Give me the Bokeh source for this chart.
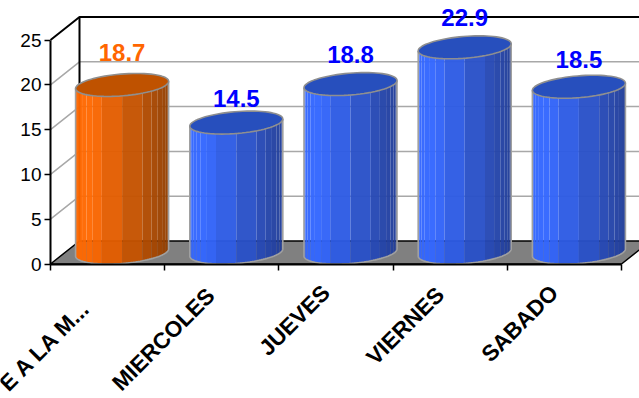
import numpy as np
from bokeh.core.properties import value
from bokeh.embed import file_html
from bokeh.models import FixedTicker, LinearAxis, Range1d
from bokeh.plotting import figure
from bokeh.resources import INLINE

# Chart data
categories = ["E A LA M...", "MIERCOLES", "JUEVES", "VIERNES", "SABADO"]
values = [18.7, 14.5, 18.8, 22.9, 18.5]
value_labels = ["18.7", "14.5", "18.8", "22.9", "18.5"]
y_ticks = [0, 5, 10, 15, 20, 25]

# Scale of the plotting box, in pixels per data unit
PX_X, PX_Y = 114.2, 8.96
LEFT_PX, BASE_PX = 50.0, 263.5
W, H = 639, 398

# Oblique projection of the depth axis
DEPTH_X, DEPTH_Y = 29 / PX_X, 23 / PX_Y
BAR_A = 44.2 / PX_X

x_range = Range1d(-LEFT_PX / PX_X, (W - LEFT_PX) / PX_X)
y_range = Range1d((BASE_PX - H) / PX_Y, BASE_PX / PX_Y)

p = figure(width=W, height=H, x_range=x_range, y_range=y_range,
           output_backend="svg", toolbar_location=None,
           x_axis_type=None, y_axis_type=None, min_border=0)
p.outline_line_color = None
p.grid.visible = False
p.background_fill_color = "white"
p.border_fill_color = "white"

n_cat = len(categories)
top = max(y_ticks)

# Floor of the box
p.patch([0, DEPTH_X, n_cat + DEPTH_X, n_cat], [0, DEPTH_Y, DEPTH_Y, 0],
        fill_color="#808080", line_color="black", line_width=1.5)

# Gridlines: across the back wall and down the left wall
for t in y_ticks[1:-1]:
    p.line([0, DEPTH_X, n_cat + DEPTH_X], [t, t + DEPTH_Y, t + DEPTH_Y],
           line_color="#a8a8a8", line_width=1.5)

# Frame of the box
p.line([0, DEPTH_X, n_cat + DEPTH_X], [top, top + DEPTH_Y, top + DEPTH_Y],
       line_color="black", line_width=2)
p.line([DEPTH_X, DEPTH_X], [DEPTH_Y, top + DEPTH_Y], line_color="black", line_width=2)


def ramp(c_light, c_dark, t):
    k = np.clip((t - 0.18) / 0.82, 0, 1)
    c = np.array(c_light) + (np.array(c_dark) - np.array(c_light)) * k
    return "#%02x%02x%02x" % tuple(int(round(v)) for v in c)


def ellipse(cx, cy, theta):
    return (cx + BAR_A * np.cos(theta) + DEPTH_X / 2 * np.sin(theta),
            cy + DEPTH_Y / 2 * np.sin(theta))


x_extent = np.hypot(BAR_A, DEPTH_X / 2)
theta_r = np.arctan2(DEPTH_X / 2, BAR_A)
theta_l = theta_r + np.pi
full = np.linspace(0, 2 * np.pi, 73)

# Strip edges along the front of the wall: wide facets in the middle, narrow at the sides
u = np.linspace(-1, 1, 17)
warp = np.sign(u) * np.abs(u) ** 0.6
theta_mid = (theta_l + theta_r + 2 * np.pi) / 2
edges = theta_mid + warp * (theta_r + 2 * np.pi - theta_l) / 2

for i, v in enumerate(values):
    cx = i + 0.5 + DEPTH_X / 2
    cy_top = v + DEPTH_Y / 2
    cy_base = DEPTH_Y / 2
    if i == 0:
        light, dark, lid = (255, 104, 0), (145, 62, 0), "#bf5200"
    else:
        light, dark, lid = (50, 102, 255), (32, 60, 150), "#274fbd"

    # Cylinder wall, split into vertical strips
    for a, b in zip(edges[:-1], edges[1:]):
        arc = np.linspace(a, b, 6)
        xs, ys_top = ellipse(cx, cy_top, arc)
        _, ys_base = ellipse(cx, cy_base, arc)
        t = (xs.mean() - (cx - x_extent)) / (2 * x_extent)
        p.patch(np.r_[xs, xs[::-1]], np.r_[ys_top, ys_base[::-1]],
                fill_color=ramp(light, dark, t), fill_alpha=0.96, line_color=None)

    # Outline of the wall
    arc = np.linspace(theta_l, theta_r + 2 * np.pi, 60)
    xs, ys = ellipse(cx, cy_base, arc)
    lx, ly_t = ellipse(cx, cy_top, np.array([theta_l]))
    rx, ry_t = ellipse(cx, cy_top, np.array([theta_r]))
    p.line(np.r_[lx, xs, rx], np.r_[ly_t, ys, ry_t], line_color="#a0a0a0", line_width=1.6)

    # Top of the cylinder
    ex, ey = ellipse(cx, cy_top, full)
    p.patch(ex, ey, fill_color=lid, line_color="#8f8f8f", line_width=1.6)

# Value labels above each cylinder
label_lift_px = [21, 13, 18, 18, 16]
p.text([i + 0.5 + DEPTH_X / 2 for i in range(n_cat)],
       [v + DEPTH_Y for v in values], text=value_labels,
       y_offset=[-d for d in label_lift_px],
       text_color=["#ff6600", "#0000ff", "#0000ff", "#0000ff", "#0000ff"],
       text_font=value("Liberation Sans"), text_font_style="bold",
       text_font_size="24px", text_align="center", text_baseline="alphabetic")

# Category labels, rotated and ending under each category
label_shift_px = [-21, -11, -10, -10, -10]
label_drop_px = [40, 28, 25, 27, 25]
p.text([i + 0.5 for i in range(n_cat)], [0] * n_cat, text=categories,
       x_offset=label_shift_px, y_offset=label_drop_px,
       angle=np.pi / 4, text_color="black",
       text_font=value("Liberation Sans"), text_font_style="bold",
       text_font_size="22.5px", text_align="right", text_baseline="middle")

# Value axis on the front left edge
y_axis = LinearAxis(ticker=FixedTicker(ticks=y_ticks), bounds=(0, top), fixed_location=0)
y_axis.axis_line_color = "black"
y_axis.axis_line_width = 2
y_axis.major_tick_line_color = "black"
y_axis.major_tick_line_width = 1.5
y_axis.major_tick_in = 0
y_axis.major_tick_out = 6
y_axis.minor_tick_line_color = None
y_axis.major_label_standoff = 3
y_axis.major_label_text_font = "Liberation Sans"
y_axis.major_label_text_font_size = "19px"
y_axis.major_label_text_color = "black"
p.add_layout(y_axis, "left")

# Category axis along the front of the floor
x_axis = LinearAxis(ticker=FixedTicker(ticks=list(range(n_cat + 1))), bounds=(0, n_cat), fixed_location=0)
x_axis.axis_line_color = "black"
x_axis.axis_line_width = 2
x_axis.major_tick_line_color = "black"
x_axis.major_tick_line_width = 1.5
x_axis.major_tick_in = 0
x_axis.major_tick_out = 6
x_axis.minor_tick_line_color = None
x_axis.major_label_text_font_size = "0px"
x_axis.major_label_text_color = None
p.add_layout(x_axis, "below")

open("out.html", "w").write(file_html(p, INLINE))
